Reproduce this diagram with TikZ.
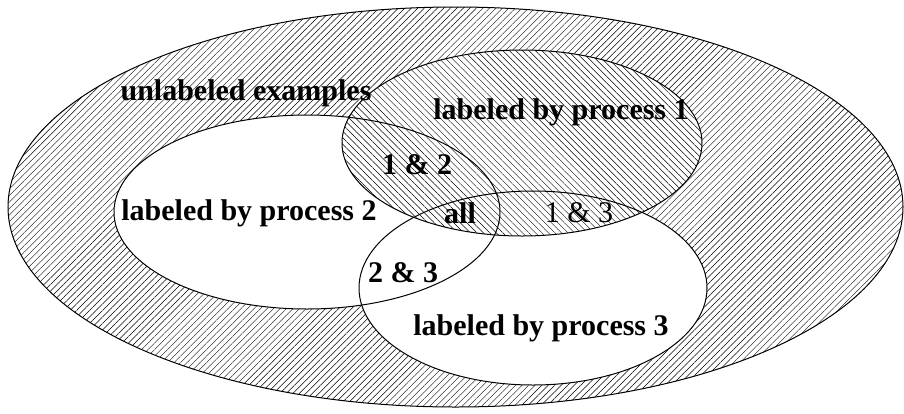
\documentclass[tikz,border=0pt]{standalone}
\usepackage{fontspec}
\setmainfont{Liberation Serif}
\usetikzlibrary{patterns.meta}
\tikzset{
  hatchne/.style={pattern={Lines[angle=45,distance=4.6pt,line width=0.45pt]}},
  hatchnw/.style={pattern={Lines[angle=-45,distance=4.6pt,line width=0.45pt]}},
  outline/.style={draw=black,line width=1pt},
  lbl/.style={font=\fontsize{30}{36}\selectfont\bfseries,inner sep=0pt},
  lblr/.style={font=\fontsize{30}{36}\selectfont,inner sep=0pt}
}
\begin{document}
\begin{tikzpicture}[x=1pt,y=-1pt]
\useasboundingbox (0,0) rectangle (904,413);
\coordinate (cu) at (455.5,207);
\coordinate (c1) at (522,143);
\coordinate (c2) at (307,212);
\coordinate (c3) at (533,288);
% outer: unlabeled
\path[hatchne] (cu) ellipse [x radius=447.5, y radius=200];
% process 2 and 3 (white)
\path[fill=white] (c2) ellipse [x radius=193, y radius=97];
\path[fill=white] (c3) ellipse [x radius=174, y radius=97];
% process 1
\path[fill=white] (c1) ellipse [x radius=180, y radius=93];
\path[hatchnw] (c1) ellipse [x radius=180, y radius=93];
% outlines
\draw[outline] (cu) ellipse [x radius=447.5, y radius=200];
\draw[outline] (c1) ellipse [x radius=180, y radius=93];
\draw[outline] (c2) ellipse [x radius=193, y radius=97];
\draw[outline] (c3) ellipse [x radius=174, y radius=97];
% labels
\node[lbl] (tu) at (246,93) {unlabeled examples};
\node[lbl] (t1) at (561,112) {labeled by process 1};
\node[lbl] (t12) at (417,165) {1 \& 2};
\node[lbl] (t2) at (249,213) {labeled by process 2};
\node[lbl] (tall) at (460,213) {all};
\node[lblr] (t13) at (579,213) {1 \& 3};
\node[lbl] (t23) at (403,273) {2 \& 3};
\node[lbl] (t3) at (541,328) {labeled by process 3};
\end{tikzpicture}
\end{document}
